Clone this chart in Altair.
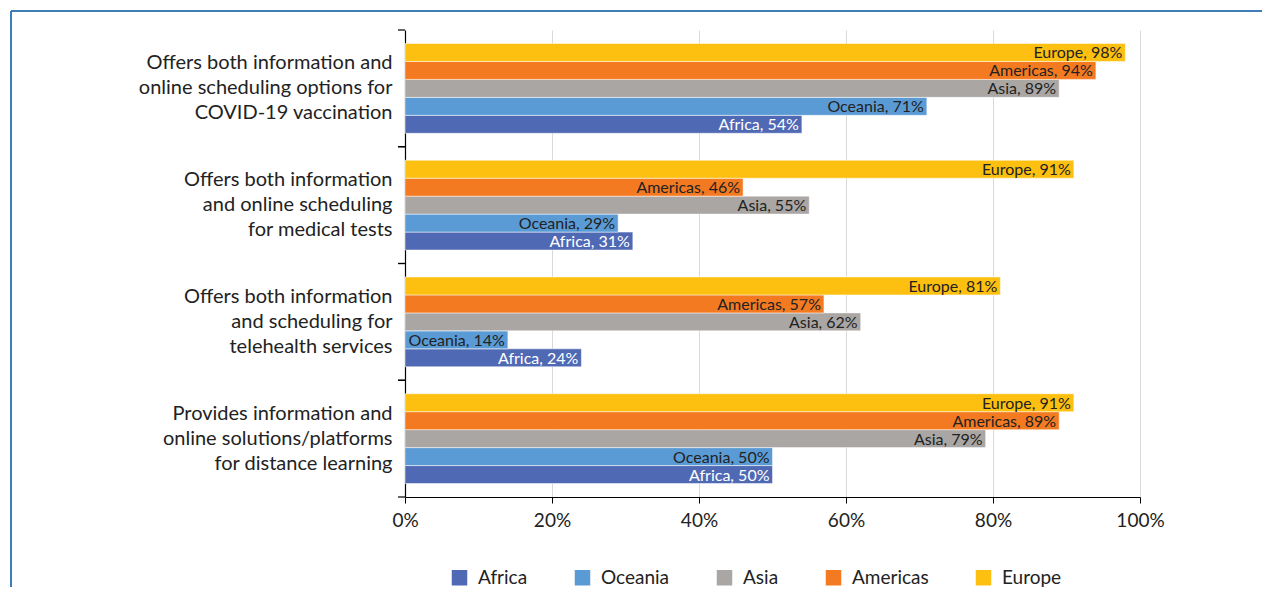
import altair as alt
import pandas as pd

categories = [
    "Offers both information and\nonline scheduling options for\nCOVID-19 vaccination",
    "Offers both information\nand online scheduling\nfor medical tests",
    "Offers both information\nand scheduling for\ntelehealth services",
    "Provides information and\nonline solutions/platforms\nfor distance learning",
]
regions = ["Africa", "Oceania", "Asia", "Americas", "Europe"]
colors = ["#5069b4", "#5b9bd5", "#a9a6a4", "#f47a22", "#fdc010"]
africa = [54, 31, 24, 50]
oceania = [71, 29, 14, 50]
asia = [89, 55, 62, 79]
americas = [94, 46, 57, 89]
europe = [98, 91, 81, 91]
x_ticks = [0, 20, 40, 60, 80, 100]

series = {"Africa": africa, "Oceania": oceania, "Asia": asia,
          "Americas": americas, "Europe": europe}
rows = []
for r in regions:
    for c, v in zip(categories, series[r]):
        rows.append({"Category": c, "Region": r, "Value": v})
df = pd.DataFrame(rows)
cat_df = pd.DataFrame({"Category": categories})

FONT = "Lato"
stack_order = ["Europe", "Americas", "Asia", "Oceania", "Africa"]

y_scale = alt.Scale(domain=categories, paddingInner=0, paddingOuter=0)

base = alt.Chart(df).encode(
    y=alt.Y("Category:N", sort=categories, scale=y_scale,
            axis=alt.Axis(title=None, ticks=False,
                          labelExpr="split(datum.label, '\\n')",
                          labelFontSize=20, labelFont=FONT, labelColor="#222222",
                          labelLineHeight=25, labelLimit=400, labelPadding=13,
                          labelOffset=-25,
                          domainColor="#000000", domainWidth=1.2, grid=False,
                          labelAlign="right")),
    yOffset=alt.YOffset("Region:N", sort=stack_order,
                        scale=alt.Scale(paddingInner=0, paddingOuter=0.75)),
)

bars = base.mark_bar(stroke="white", strokeWidth=0.5).encode(
    x=alt.X("Value:Q", scale=alt.Scale(domain=[0, 100], nice=False),
            axis=alt.Axis(title=None, values=x_ticks, labelExpr="datum.value + '%'",
                          labelFontSize=19, labelFont=FONT, labelColor="#222222",
                          labelPadding=8, tickSize=6, tickColor="#000000",
                          labelFlush=False,
                          domainColor="#000000", domainWidth=1.2,
                          grid=True, gridColor="#d9d9d9")),
    color=alt.Color("Region:N", sort=regions,
                    scale=alt.Scale(domain=regions, range=colors),
                    legend=alt.Legend(title=None, orient="none", direction="horizontal",
                                      legendX=45, legendY=538, symbolType="square",
                                      symbolSize=240, symbolStrokeWidth=0,
                                      labelFontSize=19, labelFont=FONT,
                                      labelColor="#222222", columnPadding=45,
                                      labelOffset=9)),
)

labels = base.mark_text(align="right", baseline="middle", dx=-3, dy=1, fontSize=16,
                        font=FONT).encode(
    x=alt.X("Value:Q"),
    text=alt.Text("label:N"),
    color=alt.condition(alt.datum.Region == "Africa", alt.value("white"),
                        alt.value("#222222")),
).transform_calculate(label="datum.Region + ', ' + datum.Value + '%'")

ticks_start = alt.Chart(cat_df).mark_rule(color="#000000", strokeWidth=1.2).encode(
    y=alt.Y("Category:N", sort=categories, scale=y_scale, bandPosition=0),
    x=alt.value(-7), x2=alt.value(0))
ticks_end = alt.Chart(cat_df).mark_rule(color="#000000", strokeWidth=1.2).encode(
    y=alt.Y("Category:N", sort=categories, scale=y_scale, bandPosition=1),
    x=alt.value(-7), x2=alt.value(0))

frame_data = alt.Data(values=[{"k": 1}])
frame_v = alt.Chart(frame_data).mark_rule(color="#3f7db8", strokeWidth=2).encode(
    x=alt.value(-394), y=alt.value(-19), y2=alt.value(620))
frame_h = alt.Chart(frame_data).mark_rule(color="#3f7db8", strokeWidth=2).encode(
    x=alt.value(-394), x2=alt.value(900), y=alt.value(-19))

chart = alt.layer(bars, labels, ticks_start, ticks_end, frame_v, frame_h).properties(
    width=735, height=467,
    padding={"left": 397, "top": 22, "right": 122, "bottom": 90},
    autosize=alt.AutoSizeParams(type="none"),
).configure_view(stroke=None)

chart.save("out.html", embed_options={"renderer": "svg", "actions": False})
